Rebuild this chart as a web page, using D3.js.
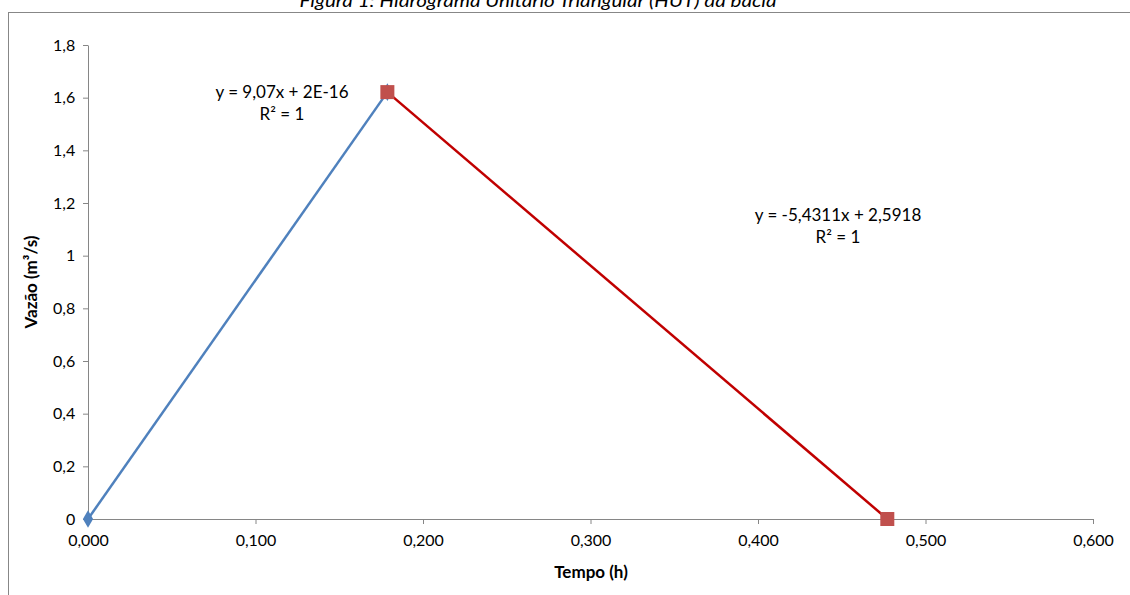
<!DOCTYPE html>
<html><head><meta charset="utf-8">
<script src="https://cdn.jsdelivr.net/npm/d3@7"></script>
<style>body{margin:0;background:#fff;} svg{display:block;}</style>
</head><body>
<script>
const subidaX = [0, 0.17873];
const subidaY = [0, 1.6211];
const descidaX = [0.17873, 0.4772];
const descidaY = [1.6211, 0];
const xTicks = [0, 0.1, 0.2, 0.3, 0.4, 0.5, 0.6];
const yTicks = [0, 0.2, 0.4, 0.6, 0.8, 1, 1.2, 1.4, 1.6, 1.8];
const titulo = "Figura 1: Hidrograma Unitário Triangular (HUT) da bacia";
const eqSubida = ["y = 9,07x + 2E-16", "R² = 1"];
const eqDescida = ["y = -5,4311x + 2,5918", "R² = 1"];

const W = 1130, H = 595;
const font = "Lato, 'Open Sans', sans-serif";
const svg = d3.select("body").append("svg").attr("width", W).attr("height", H);

svg.append("rect").attr("x", 8.5).attr("y", 12.5).attr("width", 1140).attr("height", 600)
  .attr("fill", "none").attr("stroke", "#878787").attr("stroke-width", 1);

svg.append("text").attr("x", 538).attr("y", 7).attr("text-anchor", "middle")
  .attr("font-family", font).attr("font-style", "italic")
  .attr("font-size", 18).attr("textLength", 477).attr("lengthAdjust", "spacingAndGlyphs")
  .attr("fill", "#000").text(titulo);

const x = d3.scaleLinear().domain([0, 0.6]).range([88, 1093]);
const y = d3.scaleLinear().domain([0, 1.8]).range([519, 45]);
const fmtX = v => d3.format(".3f")(v).replace(".", ",");
const fmtY = v => (v === 0 || v === 1) ? String(v) : d3.format(".1f")(v).replace(".", ",");

const gx = svg.append("g").attr("transform", "translate(0,519)")
  .call(d3.axisBottom(x).tickValues(xTicks).tickFormat(fmtX).tickSize(5).tickSizeOuter(0));
const gy = svg.append("g").attr("transform", "translate(88,0)")
  .call(d3.axisLeft(y).tickValues(yTicks).tickFormat(fmtY).tickSize(5).tickSizeOuter(0));
[gx, gy].forEach(g => {
  g.select(".domain").attr("stroke", "#868686");
  g.selectAll(".tick line").attr("stroke", "#868686");
  g.selectAll("text").attr("font-family", font).attr("font-size", 16).attr("fill", "#000");
});
gx.selectAll("text").attr("dy", "1.2em");
gy.selectAll("text").attr("dx", "-0.3em");

svg.append("text").attr("x", 591).attr("y", 578).attr("text-anchor", "middle")
  .attr("font-family", font).attr("font-weight", "bold").attr("font-size", 17).text("Tempo (h)");
svg.append("text").attr("transform", "translate(37,282) rotate(-90)").attr("text-anchor", "middle")
  .attr("font-family", font).attr("font-weight", "bold").attr("font-size", 17).text("Vazão (m³/s)");

const line = d3.line().x(d => x(d[0])).y(d => y(d[1]));
const ptsA = subidaX.map((v, i) => [v, subidaY[i]]);
const ptsB = descidaX.map((v, i) => [v, descidaY[i]]);

svg.append("path").datum(ptsA).attr("d", line).attr("fill", "none").attr("stroke", "#4F81BD").attr("stroke-width", 2.5);
svg.append("path").datum(ptsB).attr("d", line).attr("fill", "none").attr("stroke", "#C00000").attr("stroke-width", 2.5);

svg.selectAll(".dia").data(ptsA).enter().append("path")
  .attr("d", d3.symbol().type(d3.symbolDiamond).size(90))
  .attr("transform", d => `translate(${x(d[0])},${y(d[1])})`).attr("fill", "#4F81BD");
svg.selectAll(".sq").data(ptsB).enter().append("rect")
  .attr("x", d => x(d[0]) - 7).attr("y", d => y(d[1]) - 7).attr("width", 14).attr("height", 14)
  .attr("fill", "#C0504D");

function eq(lines, cx, cy) {
  lines.forEach((t, i) => svg.append("text").attr("x", cx).attr("y", cy + i * 22)
    .attr("text-anchor", "middle").attr("font-family", font).attr("font-size", 17).attr("fill", "#000").text(t));
}
eq(eqSubida, 282, 98);
eq(eqDescida, 838, 221);
</script>
</body></html>
